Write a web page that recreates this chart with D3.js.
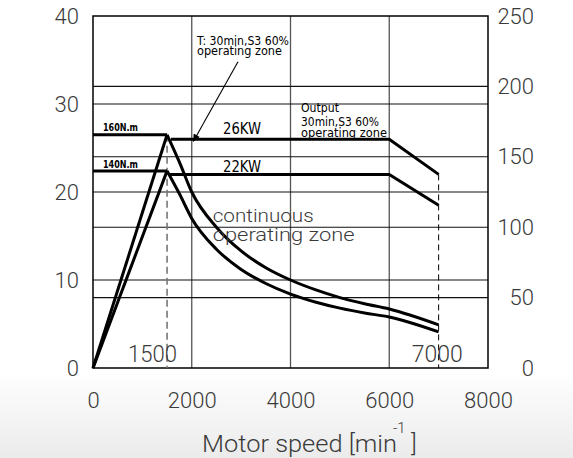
<!DOCTYPE html>
<html>
<head>
<meta charset="utf-8">
<script src="https://cdn.jsdelivr.net/npm/d3@7"></script>
<style>
  html, body { margin: 0; padding: 0; background: #fff; }
  svg { display: block; }
</style>
</head>
<body>
<svg id="chart" width="573" height="458"></svg>
<script>
// ---- data ----
const speedTicks = [0, 2000, 4000, 6000, 8000];
const leftTicks = [0, 10, 20, 30, 40];
const rightTicks = [0, 50, 100, 150, 200, 250];
const leftGrid = [10, 20, 30];
const rightGrid = [50, 100, 150, 200];
const verticalGrid = [2000, 4000, 6000];

// S3 60% (30 min) torque curve, in left-axis units
const riseSpeed = [0, 1500];
const s3Rise = [0, 26.5];
const contRise = [0, 22.4];
const flatSpeed = [0, 1500];
const s3Flat = [26.5, 26.5];
const contFlat = [22.4, 22.4];
const fallSpeed = [1500, 1750, 2000, 2500, 3000, 3500, 4000, 4500, 5000, 5500, 6000, 7000];
const s3Fall   = [26.5, 23.4, 20.0, 16.0, 13.3, 11.4, 10.0, 8.9, 8.0, 7.3, 6.7, 4.9];
const contFall = [22.4, 19.8, 17.0, 13.5, 11.2, 9.6, 8.4, 7.5, 6.8, 6.25, 5.8, 4.1];
// power lines
const s3PowerSpeed = [1580, 6000, 7000];
const s3Power = [26, 26, 22];
const contPowerSpeed = [1545, 6000, 7000];
const contPower = [22, 22, 18.5];
// base speed / max speed markers
const baseSpeed = 1500, maxSpeed = 7000;

// ---- layout ----
const svg = d3.select("#chart");
const L = 93, R = 488, T = 16, B = 368;
const x = d3.scaleLinear().domain([0, 8000]).range([L, R]);
const yL = d3.scaleLinear().domain([0, 40]).range([B, T]);
const yR = d3.scaleLinear().domain([0, 250]).range([B, T]);

// background gradient at bottom
const defs = svg.append("defs");
const g1 = defs.append("linearGradient").attr("id", "bg").attr("x1", 0).attr("x2", 0).attr("y1", 0).attr("y2", 1);
g1.append("stop").attr("offset", "0%").attr("stop-color", "#ffffff");
g1.append("stop").attr("offset", "100%").attr("stop-color", "#ebebeb");
svg.append("rect").attr("x", 0).attr("y", 372).attr("width", 573).attr("height", 86).attr("fill", "url(#bg)");

defs.append("marker").attr("id", "arr").attr("viewBox", "0 0 10 10").attr("refX", 10).attr("refY", 5)
  .attr("markerWidth", 13).attr("markerHeight", 7).attr("markerUnits", "userSpaceOnUse").attr("orient", "auto")
  .append("path").attr("d", "M0,0 L10,5 L0,10 Z").attr("fill", "#000");

// grid
svg.append("g").selectAll("line").data(verticalGrid).join("line")
  .attr("x1", d => x(d)).attr("x2", d => x(d)).attr("y1", T).attr("y2", B)
  .attr("stroke", "#555").attr("stroke-width", 1.3);
svg.append("g").selectAll("line").data(leftGrid).join("line")
  .attr("x1", L).attr("x2", R).attr("y1", d => yL(d)).attr("y2", d => yL(d))
  .attr("stroke", "#111").attr("stroke-width", 1.1);
svg.append("g").selectAll("line").data(rightGrid).join("line")
  .attr("x1", L).attr("x2", R).attr("y1", d => yR(d)).attr("y2", d => yR(d))
  .attr("stroke", "#111").attr("stroke-width", 1.1);

// border
svg.append("rect").attr("x", L).attr("y", T).attr("width", R - L).attr("height", B - T)
  .attr("fill", "none").attr("stroke", "#000").attr("stroke-width", 1.5);

// dashed markers
svg.append("line").attr("x1", x(baseSpeed)).attr("x2", x(baseSpeed))
  .attr("y1", yL(s3Rise[1])).attr("y2", B)
  .attr("stroke", "#777").attr("stroke-width", 1.6).attr("stroke-dasharray", "7,4");
svg.append("line").attr("x1", x(maxSpeed)).attr("x2", x(maxSpeed))
  .attr("y1", yL(s3Power[2])).attr("y2", B)
  .attr("stroke", "#000").attr("stroke-width", 1).attr("stroke-dasharray", "6,4");

// curves
const lineLin = d3.line().x(d => x(d[0])).y(d => yL(d[1]));
const lineMono = d3.line().x(d => x(d[0])).y(d => yL(d[1])).curve(d3.curveMonotoneX);
const zip = (a, b) => a.map((v, i) => [v, b[i]]);
const curves = [
  [zip(riseSpeed, s3Rise), lineLin],
  [zip(riseSpeed, contRise), lineLin],
  [zip(flatSpeed, s3Flat), lineLin],
  [zip(flatSpeed, contFlat), lineLin],
  [zip(fallSpeed, s3Fall), lineMono],
  [zip(fallSpeed, contFall), lineMono],
  [zip(s3PowerSpeed, s3Power), lineLin],
  [zip(contPowerSpeed, contPower), lineLin]
];
svg.append("g").selectAll("path").data(curves).join("path")
  .attr("d", d => d[1](d[0])).attr("fill", "none").attr("stroke", "#000")
  .attr("stroke-width", 3).attr("stroke-linejoin", "miter");

// axes
const tickFont = "Roboto, 'DejaVu Sans', sans-serif";
const textGrey = "#3a3a3a";
function styleAxis(g) {
  g.select(".domain").remove();
  g.selectAll("text").attr("font-family", tickFont).attr("font-weight", 300)
    .attr("font-size", 22).attr("fill", textGrey);
}
svg.append("g").attr("transform", `translate(${L},0)`)
  .call(d3.axisLeft(yL).tickValues(leftTicks).tickSize(0).tickPadding(14))
  .call(styleAxis);
svg.append("g").attr("transform", `translate(${R},0)`)
  .call(d3.axisRight(yR).tickValues(rightTicks).tickSize(0).tickPadding(46))
  .call(styleAxis)
  .selectAll("text").attr("text-anchor", "end");
svg.append("g").attr("transform", `translate(0,${B})`)
  .call(d3.axisBottom(x).tickValues(speedTicks).tickFormat(d3.format("d")).tickSize(0).tickPadding(24))
  .call(styleAxis);

// axis title
svg.append("text").attr("x", 202).attr("y", 452).attr("font-family", tickFont).attr("font-weight", 300)
  .attr("font-size", 24).attr("fill", textGrey).attr("textLength", 195).attr("lengthAdjust", "spacingAndGlyphs")
  .text("Motor speed [min");
svg.append("text").attr("x", 393).attr("y", 433).attr("font-family", tickFont).attr("font-weight", 300)
  .attr("font-size", 15).attr("fill", textGrey).text("-1");
svg.append("text").attr("x", 411).attr("y", 452).attr("font-family", tickFont).attr("font-weight", 300)
  .attr("font-size", 24).attr("fill", textGrey).text("]");

// annotations (positions in data units)
const ann = [
  { t: "160N.m", sx: 203, v: 26.9, fs: 10.5, w: 35, fw: 600 },
  { t: "140N.m", sx: 203, v: 22.7, fs: 10.5, w: 35, fw: 600 },
  { t: "26KW", sx: 2633, v: 26.6, fs: 15.5, w: 38, fw: 400 },
  { t: "22KW", sx: 2633, v: 22.25, fs: 15.5, w: 38, fw: 400 },
  { t: "T: 30min,S3 60%", sx: 2106, v: 36.76, fs: 11.5, w: 92, fw: 400 },
  { t: "operating zone", sx: 2106, v: 35.62, fs: 11.5, w: 85, fw: 400 },
  { t: "Output", sx: 4213, v: 29.1, fs: 11.5, w: 38, fw: 400 },
  { t: "30min,S3 60%", sx: 4213, v: 27.5, fs: 11.5, w: 78, fw: 400 },
  { t: "operating zone", sx: 4213, v: 26.25, fs: 11.5, w: 86, fw: 400 },
  { t: "continuous", sx: 2424, v: 16.55, fs: 18, w: 101, fw: 300 },
  { t: "operating zone", sx: 2424, v: 14.4, fs: 18, w: 142, fw: 300 },
  { t: "1500", sx: 709, v: 0.68, fs: 24, w: 49, fw: 300 },
  { t: "7000", sx: 6455, v: 0.68, fs: 24, w: 51, fw: 300 }
];
svg.append("g").selectAll("text").data(ann).join("text")
  .attr("x", d => x(d.sx)).attr("y", d => yL(d.v))
  .attr("font-family", d => d.fw === 300 ? tickFont : "'DejaVu Sans', sans-serif")
  .attr("font-weight", d => d.fw)
  .attr("font-size", d => d.fs).attr("fill", d => d.fw === 300 ? textGrey : "#000")
  .attr("textLength", d => d.w).attr("lengthAdjust", "spacingAndGlyphs")
  .text(d => d.t);

// arrow for the S3 zone note
svg.append("line").attr("x1", x(2937)).attr("y1", yL(34.8)).attr("x2", x(2031)).attr("y2", yL(25.75))
  .attr("stroke", "#000").attr("stroke-width", 1.1).attr("marker-end", "url(#arr)");
</script>
</body>
</html>
